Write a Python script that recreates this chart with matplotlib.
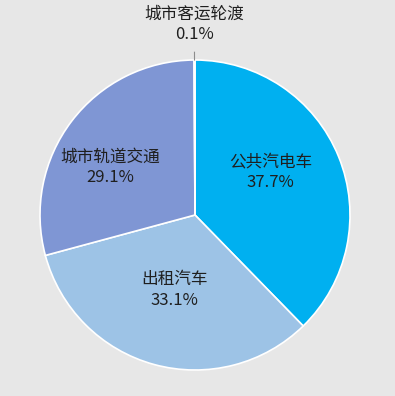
import numpy as np
import matplotlib
matplotlib.use("Agg")
import matplotlib.pyplot as plt

plt.rcParams['font.family'] = ['Noto Sans CJK SC', 'DejaVu Sans']

categories = ["公共汽电车", "出租汽车", "城市轨道交通", "城市客运轮渡"]
shares = [37.7, 33.1, 29.1, 0.1]
colors = ["#00b0f0", "#9dc3e6", "#7f96d4", "#e0e0e0"]

# label placement (radius as fraction of pie radius, angle nudge in degrees)
label_dist = [0.56, 0.50, 0.63, 1.23]
label_turn = [7.5, 0.0, 8.0, 0.0]

bg = "#e7e7e7"
fig = plt.figure(figsize=(3.95, 3.96), dpi=100, facecolor=bg)
ax = fig.add_axes([40 / 395, 26 / 396, 310 / 395, 310 / 396])
ax.set_facecolor(bg)

wedges, _ = ax.pie(shares, colors=colors, startangle=90, counterclock=False,
                   wedgeprops=dict(edgecolor="white", linewidth=1.2))
ax.set_xlim(-1, 1)
ax.set_ylim(-1, 1)
ax.set_aspect("equal")

for w, name, val, d, t in zip(wedges, categories, shares, label_dist, label_turn):
    mid = np.deg2rad((w.theta1 + w.theta2) / 2)
    ang = mid + np.deg2rad(t)
    x, y = d * np.cos(ang), d * np.sin(ang)
    if d > 1:
        # leader line for the tiny slice
        ax.plot([np.cos(mid), 1.05 * np.cos(mid)], [np.sin(mid), 1.05 * np.sin(mid)],
                color="#8c8c8c", lw=0.8, clip_on=False)
    ax.text(x, y, f"{name}\n{val}%", ha="center", va="center", fontsize=12,
            color="#1f1f1f", linespacing=1.3)

fig.savefig("out.png", dpi=100, facecolor=bg)
